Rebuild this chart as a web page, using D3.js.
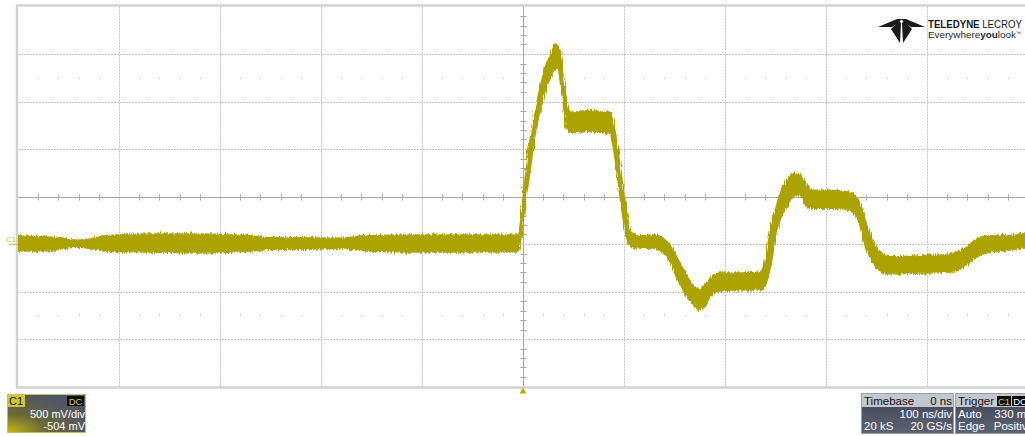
<!DOCTYPE html>
<html>
<head>
<meta charset="utf-8">
<script src="https://cdn.jsdelivr.net/npm/d3@7"></script>
<style>
  html, body { margin: 0; padding: 0; background: #ffffff; }
  svg { display: block; font-family: "Liberation Sans", Arial, sans-serif; }
</style>
</head>
<body>
<svg id="scope" width="1025" height="436"></svg>
<script>
// ---- Channel C1 acquisition (envelope of the captured trace) ----
// time in ns relative to trigger, envelope top / bottom in mV
const timeNs = [-500, -478, -458, -444, -429, -414, -369, -320, -270, -250, -221, -181, -156, -102, -52, -5,
  2, 7, 12, 17, 22, 27, 32, 35, 38, 41, 44, 47, 56, 66, 76, 86, 90, 94, 98, 103, 108, 116, 131, 138,
  146, 155, 165, 175, 180, 187, 195, 215, 235, 240, 245, 250, 254, 262, 269, 274, 280, 286, 304, 324,
  332, 339, 346, 353, 363, 393, 423, 438, 448, 462, 482, 500];
const envHighMv = [90, 80, 70, 45, 55, 90, 110, 110, 90, 70, 70, 65, 90, 100, 100, 100,
  680, 1100, 1410, 1650, 1860, 1990, 2110, 2070, 1920, 1680, 1470, 1390, 1400, 1410, 1400, 1390, 1260, 990, 680, 310, 110, 90, 100, 70,
  -20, -190, -380, -480, -430, -340, -300, -300, -290, -160, 150, 360, 520, 680, 750, 740, 640, 570, 570, 550,
  470, 250, 46, -80, -130, -120, -100, -40, 46, 90, 90, 130];
const envLowMv = [-70, -70, -50, -30, -40, -70, -80, -90, -70, -50, -50, -40, -70, -80, -80, -80,
  415, 780, 1150, 1410, 1620, 1750, 1860, 1840, 1620, 1390, 1220, 1180, 1180, 1190, 1180, 1170, 990, 680, 360, 67, -30, -40, -40, -80,
  -190, -410, -590, -690, -640, -530, -490, -480, -480, -430, -220, 46, 240, 415, 520, 520, 415, 380, 380, 360,
  240, -10, -185, -270, -310, -300, -290, -230, -140, -80, -60, -20];

// ---- Vertical / horizontal settings ----
const voltsPerDivMv = 500;
const offsetMv = -504;
const timePerDivNs = 100;
const divsX = 10, divsY = 8;
const groundMv = 0;

// ---- Panel texts ----
const channelLabel = "C1";
const couplingLabel = "DC";
const channelTexts = ["500 mV/div", "-504 mV"];
const timebaseHeader = ["Timebase", "0 ns"];
const timebaseRows = [["", "100 ns/div"], ["20 kS", "20 GS/s"]];
const triggerRows = [["Auto", "330 mV"], ["Edge", "Positive"]];

const traceColor = "#aca300";
const svg = d3.select("#scope");

// screen geometry of the graticule
const gLeft = 18, gTop = 6.5, divW = 101, divH = 47.5;
const gRight = gLeft + divsX * divW, gBottom = gTop + divsY * divH;
const centerMv = -offsetMv;

const x = d3.scaleLinear()
  .domain([-divsX / 2 * timePerDivNs, divsX / 2 * timePerDivNs])
  .range([gLeft, gRight]);
const y = d3.scaleLinear()
  .domain([centerMv - divsY / 2 * voltsPerDivMv, centerMv + divsY / 2 * voltsPerDivMv])
  .range([gBottom, gTop]);

const defs = svg.append("defs");
defs.append("clipPath").attr("id", "plotClip")
  .append("rect").attr("x", gLeft).attr("y", gTop).attr("width", gRight - gLeft).attr("height", gBottom - gTop);

// grainy edge of the sampled trace
const f = defs.append("filter").attr("id", "grain")
  .attr("x", "-2%").attr("y", "-10%").attr("width", "104%").attr("height", "120%");
f.append("feTurbulence").attr("type", "fractalNoise").attr("baseFrequency", "0.9 0.05")
  .attr("numOctaves", 2).attr("seed", 3).attr("result", "n");
f.append("feDisplacementMap").attr("in", "SourceGraphic").attr("in2", "n")
  .attr("scale", 5).attr("xChannelSelector", "R").attr("yChannelSelector", "G");

// ---- graticule ----
const grid = svg.append("g");
const vTicks = d3.range(-divsX / 2 + 1, divsX / 2).map(k => k * timePerDivNs).filter(v => v !== 0);
const hTicks = d3.range(-divsY / 2 + 1, divsY / 2).map(k => centerMv + k * voltsPerDivMv).filter(v => v !== centerMv);

grid.selectAll("line.v").data(vTicks).join("line")
  .attr("x1", d => Math.round(x(d)) + 0.5).attr("x2", d => Math.round(x(d)) + 0.5)
  .attr("y1", gTop).attr("y2", gBottom)
  .attr("stroke", "#c4c4c4").attr("stroke-width", 1).attr("stroke-dasharray", "2,1");
grid.selectAll("line.h").data(hTicks).join("line")
  .attr("x1", gLeft).attr("x2", gRight)
  .attr("y1", d => Math.round(y(d)) + 0.5).attr("y2", d => Math.round(y(d)) + 0.5)
  .attr("stroke", "#c4c4c4").attr("stroke-width", 1).attr("stroke-dasharray", "2,1");

// quarter-screen dotted rows
const minorX = d3.range(-divsX / 2 * 5, divsX / 2 * 5 + 1).map(k => k * timePerDivNs / 5).filter(v => v % timePerDivNs !== 0);
[centerMv + 2.5 * voltsPerDivMv, centerMv - 2.5 * voltsPerDivMv].forEach(row => {
  grid.append("g").selectAll("rect").data(minorX).join("rect")
    .attr("x", d => Math.round(x(d))).attr("y", Math.round(y(row)))
    .attr("width", 1).attr("height", 1).attr("fill", "#c0c0c0");
});

// centre axes with minor ticks
const cx = Math.round(x(0)) + 0.5, cy = Math.round(y(centerMv)) + 0.5;
grid.append("line").attr("x1", gLeft).attr("x2", gRight).attr("y1", cy).attr("y2", cy)
  .attr("stroke", "#a8a8a8").attr("stroke-width", 1);
grid.append("line").attr("x1", cx).attr("x2", cx).attr("y1", gTop).attr("y2", gBottom)
  .attr("stroke", "#a8a8a8").attr("stroke-width", 1);
grid.selectAll("line.mx").data(minorX).join("line")
  .attr("x1", d => Math.round(x(d)) + 0.5).attr("x2", d => Math.round(x(d)) + 0.5)
  .attr("y1", cy - 3).attr("y2", cy + 3).attr("stroke", "#a8a8a8");
const minorY = d3.range(-divsY / 2 * 5, divsY / 2 * 5 + 1).map(k => centerMv + k * voltsPerDivMv / 5)
  .filter(v => (v - centerMv) % voltsPerDivMv !== 0);
grid.selectAll("line.my").data(minorY).join("line")
  .attr("x1", cx - 3).attr("x2", cx + 3)
  .attr("y1", d => Math.round(y(d)) + 0.5).attr("y2", d => Math.round(y(d)) + 0.5).attr("stroke", "#a8a8a8");

// frame
grid.append("rect").attr("x", gLeft - 1).attr("y", gTop - 1).attr("width", gRight - gLeft + 2).attr("height", gBottom - gTop + 2)
  .attr("fill", "none").attr("stroke", "#d2d2d2").attr("stroke-width", 2.5);

// ---- trace ----
const pts = timeNs.map((t, i) => ({ t, hi: envHighMv[i], lo: envLowMv[i] }));
const area = d3.area().x(d => x(d.t)).y0(d => y(d.lo)).y1(d => y(d.hi)).curve(d3.curveMonotoneX);
svg.append("g").attr("clip-path", "url(#plotClip)")
  .append("path").datum(pts).attr("d", area)
  .attr("fill", traceColor).attr("stroke", traceColor).attr("stroke-width", 1.5)
  .attr("filter", "url(#grain)");

// ground marker of C1
const gy = y(groundMv);
svg.append("text").attr("x", 6).attr("y", gy - 2).attr("font-size", 8).attr("fill", "#c9c050").text(channelLabel);
svg.append("line").attr("x1", 9).attr("x2", gLeft).attr("y1", gy).attr("y2", gy)
  .attr("stroke", "#c9c050").attr("stroke-width", 1.2);

// trigger position marker
svg.append("path")
  .attr("d", `M${x(0)},${gBottom + 1} L${x(0) - 3.5},${gBottom + 7} L${x(0) + 3.5},${gBottom + 7} Z`)
  .attr("fill", "#b8ae00");

// ---- brand mark ----
const logo = svg.append("g").attr("fill", "#1a1a1a");
logo.append("path").attr("d", "M878,27 L897,19 L902,19 L898,23 L892,27 Z");
logo.append("path").attr("d", "M925,27 L906,19 L901,19 L905,23 L911,27 Z");
logo.append("path").attr("d", "M891,29 L899,21 L901,23 L900,43 Z");
logo.append("path").attr("d", "M912,29 L904,21 L902,23 L903,43 Z");
const brand = svg.append("text").attr("x", 928).attr("y", 28).attr("font-size", 10.5).attr("fill", "#1a1a1a")
  .attr("textLength", 94).attr("lengthAdjust", "spacingAndGlyphs");
brand.append("tspan").attr("font-weight", "bold").text("TELEDYNE");
brand.append("tspan").text(" LECROY");
const tag = svg.append("text").attr("x", 928).attr("y", 38).attr("font-size", 9.5).attr("fill", "#2a2a2a");
const tagWords = tag.append("tspan").attr("textLength", 88).attr("lengthAdjust", "spacingAndGlyphs");
tagWords.append("tspan").text("Everywhere");
tagWords.append("tspan").attr("font-weight", "bold").text("you");
tagWords.append("tspan").text("look");
tag.append("tspan").attr("font-size", 5).attr("dy", -3).text("™");

// ---- channel descriptor box ----
const chG = defs.append("radialGradient").attr("id", "chGrad")
  .attr("cx", "0%").attr("cy", "100%").attr("r", "110%");
chG.append("stop").attr("offset", "0%").attr("stop-color", "#c4bc10");
chG.append("stop").attr("offset", "45%").attr("stop-color", "#6a6838");
chG.append("stop").attr("offset", "100%").attr("stop-color", "#4e5468");
const ch = svg.append("g");
ch.append("rect").attr("x", 7.5).attr("y", 394.5).attr("width", 78).attr("height", 38)
  .attr("fill", "url(#chGrad)").attr("stroke", "#c8c060").attr("stroke-width", 1);
ch.append("rect").attr("x", 8).attr("y", 395).attr("width", 17).attr("height", 12).attr("fill", "#cfc630");
ch.append("text").attr("x", 9).attr("y", 405).attr("font-size", 11).attr("fill", "#111").text(channelLabel);
ch.append("rect").attr("x", 67).attr("y", 396).attr("width", 17).attr("height", 10).attr("rx", 1).attr("fill", "#0c0c0c");
ch.append("text").attr("x", 75.5).attr("y", 404.5).attr("font-size", 9.5).attr("text-anchor", "middle")
  .attr("fill", "#d8cf30").text(couplingLabel);
channelTexts.forEach((s, i) => {
  ch.append("text").attr("x", 85).attr("y", 418 + i * 12).attr("font-size", 11).attr("text-anchor", "end")
    .attr("fill", "#ffffff").text(s);
});

// ---- timebase / trigger descriptor boxes ----
const dg = defs.append("linearGradient").attr("id", "darkGrad").attr("x1", 0).attr("y1", 0).attr("x2", 0).attr("y2", 1);
dg.append("stop").attr("offset", "0%").attr("stop-color", "#3f4554");
dg.append("stop").attr("offset", "100%").attr("stop-color", "#5c6272");
function descriptor(x0, w, header, rows) {
  const g = svg.append("g");
  g.append("rect").attr("x", x0 + 0.5).attr("y", 393.5).attr("width", w).attr("height", 40)
    .attr("fill", "url(#darkGrad)").attr("stroke", "#9aa0aa");
  g.append("rect").attr("x", x0 + 1).attr("y", 394).attr("width", w - 1).attr("height", 13).attr("fill", "#c3c7cf");
  g.append("text").attr("x", x0 + 3).attr("y", 405).attr("font-size", 11.5).attr("fill", "#111").text(header[0]);
  if (header[1]) g.append("text").attr("x", x0 + w - 1).attr("y", 405).attr("font-size", 11.5)
    .attr("text-anchor", "end").attr("fill", "#111").text(header[1]);
  rows.forEach((r, i) => {
    const yy = 418 + i * 12;
    if (r[0]) g.append("text").attr("x", x0 + 3).attr("y", yy).attr("font-size", 11.5).attr("fill", "#fff").text(r[0]);
    g.append("text").attr("x", x0 + w - 1).attr("y", yy).attr("font-size", 11.5).attr("text-anchor", "end")
      .attr("fill", "#fff").text(r[1]);
  });
  return g;
}
descriptor(861, 92, timebaseHeader, timebaseRows);
const trg = descriptor(955, 80, ["Trigger", ""], triggerRows);
trg.append("rect").attr("x", 997).attr("y", 396).attr("width", 14).attr("height", 10).attr("fill", "#0c0c0c");
trg.append("text").attr("x", 1004).attr("y", 404.5).attr("font-size", 9.5).attr("text-anchor", "middle")
  .attr("fill", "#d8cf30").text(channelLabel);
trg.append("rect").attr("x", 1012).attr("y", 396).attr("width", 16).attr("height", 10).attr("fill", "#0c0c0c");
trg.append("text").attr("x", 1020).attr("y", 404.5).attr("font-size", 9.5).attr("text-anchor", "middle")
  .attr("fill", "#ffffff").text(couplingLabel);
</script>
</body>
</html>
